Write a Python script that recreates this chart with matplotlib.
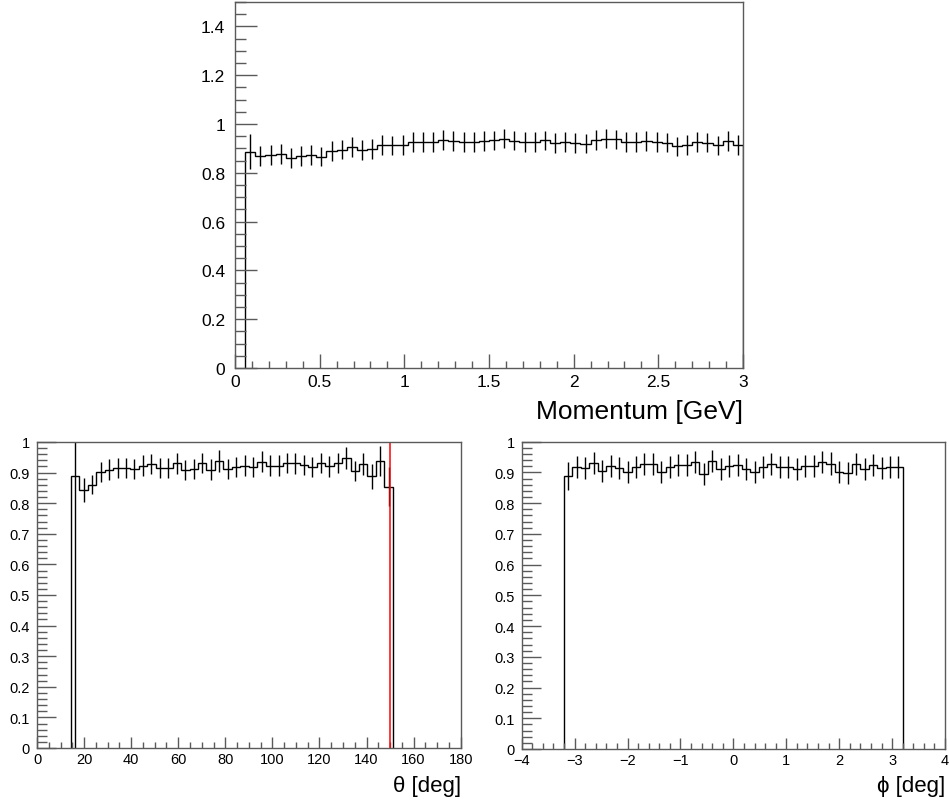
import numpy as np
import matplotlib
matplotlib.use("Agg")
import matplotlib.pyplot as plt
from matplotlib.ticker import MultipleLocator, FuncFormatter

plt.rcParams['font.family'] = ['Liberation Sans', 'DejaVu Sans']

# ---------------- data ----------------
# Momentum: 50 bins on [0, 3]; bins 1..49 filled
mom_nbins = 50
mom_range = (0.0, 3.0)
mom_first_bin = 1
mom_vals = [0.887, 0.868, 0.872, 0.876, 0.860, 0.868, 0.872, 0.866, 0.889, 0.895,
            0.905, 0.894, 0.897, 0.915, 0.912, 0.915, 0.926, 0.926, 0.927, 0.934,
            0.930, 0.927, 0.927, 0.930, 0.933, 0.940, 0.932, 0.926, 0.927, 0.933,
            0.923, 0.927, 0.922, 0.920, 0.934, 0.940, 0.937, 0.926, 0.926, 0.930,
            0.926, 0.924, 0.908, 0.915, 0.926, 0.924, 0.912, 0.930, 0.915]
mom_errs = [0.071] + [0.040] * 48

# Theta: 50 bins on [0, 180]; bins 4..41 filled
th_nbins = 50
th_range = (0.0, 180.0)
th_first_bin = 4
th_vals = [0.890, 0.843, 0.861, 0.901, 0.910, 0.914, 0.916, 0.912, 0.923, 0.929,
           0.914, 0.914, 0.930, 0.909, 0.912, 0.932, 0.910, 0.937, 0.912, 0.919,
           0.923, 0.919, 0.936, 0.923, 0.923, 0.931, 0.930, 0.925, 0.919, 0.931,
           0.920, 0.931, 0.948, 0.904, 0.928, 0.888, 0.938, 0.854]
th_errs = [0.900, 0.040, 0.030, 0.033, 0.033, 0.033, 0.033, 0.033, 0.033, 0.033,
           0.033, 0.033, 0.033, 0.033, 0.033, 0.033, 0.033, 0.036, 0.033, 0.033,
           0.033, 0.033, 0.033, 0.033, 0.033, 0.033, 0.033, 0.033, 0.033, 0.033,
           0.033, 0.033, 0.036, 0.033, 0.035, 0.040, 0.050, 0.064]
th_cut = 150.0

# Phi: 50 bins on [-4, 4]; bins 5..44 filled
ph_nbins = 50
ph_range = (-4.0, 4.0)
ph_first_bin = 5
ph_vals = [0.889, 0.917, 0.913, 0.931, 0.906, 0.922, 0.913, 0.900, 0.917, 0.927,
           0.927, 0.902, 0.917, 0.925, 0.924, 0.933, 0.895, 0.937, 0.910, 0.920,
           0.924, 0.910, 0.902, 0.917, 0.927, 0.918, 0.917, 0.911, 0.920, 0.920,
           0.933, 0.929, 0.902, 0.897, 0.927, 0.911, 0.924, 0.913, 0.917, 0.917]
ph_errs = [0.045] + [0.036] * 39

# ---------------- figure ----------------
W, H = 949, 804
fig = plt.figure(figsize=(W / 100, H / 100), dpi=100)

def px_axes(l, r, t, b):
    return fig.add_axes([l / W, (H - b) / H, (r - l) / W, (b - t) / H])

SPINE = '#5a5a5a'

def fmt(v, pos):
    s = '{:g}'.format(round(v, 6))
    return s.replace('-', '\u2212')

def style(ax, xmaj, xmin, ymaj, ymin, xlen, ylen, fs, ypad, xpad):
    for s in ax.spines.values():
        s.set_color(SPINE)
        s.set_linewidth(1.0)
    ax.xaxis.set_major_locator(MultipleLocator(xmaj))
    ax.xaxis.set_minor_locator(MultipleLocator(xmin))
    ax.yaxis.set_major_locator(MultipleLocator(ymaj))
    ax.yaxis.set_minor_locator(MultipleLocator(ymin))
    ax.xaxis.set_major_formatter(FuncFormatter(fmt))
    ax.yaxis.set_major_formatter(FuncFormatter(fmt))
    ax.tick_params(axis='x', which='major', direction='in', length=xlen, width=1.0,
                   color=SPINE, labelsize=fs, pad=xpad, top=False)
    ax.tick_params(axis='x', which='minor', direction='in', length=xlen / 2, width=1.0,
                   color=SPINE, top=False)
    ax.tick_params(axis='y', which='major', direction='in', length=ylen, width=1.0,
                   color=SPINE, labelsize=fs, pad=ypad, right=False)
    ax.tick_params(axis='y', which='minor', direction='in', length=ylen / 2, width=1.0,
                   color=SPINE, right=False)

def draw_hist(ax, nbins, rng, first, vals, errs, ymax):
    edges_all = np.linspace(rng[0], rng[1], nbins + 1)
    n = len(vals)
    edges = edges_all[first:first + n + 1]
    v = np.array(vals)
    e = np.array(errs)
    centers = 0.5 * (edges[:-1] + edges[1:])
    ax.stairs(v, edges, baseline=0, color='black', linewidth=1.0)
    lo = np.clip(v - e, 0, ymax)
    hi = np.clip(v + e, 0, ymax)
    ax.vlines(centers, lo, hi, color='black', linewidth=1.0)

# Top: momentum
ax1 = px_axes(235, 743, 3, 369)
draw_hist(ax1, mom_nbins, mom_range, mom_first_bin, mom_vals, mom_errs, 1.5)
ax1.set_xlim(*mom_range)
ax1.set_ylim(0, 1.5)
style(ax1, 0.5, 0.1, 0.2, 0.05, 10, 16, 12.5, 7, 4)
fig.text(743 / W, 1 - 412 / H, 'Momentum [GeV]', ha='right', va='center', fontsize=19)

# Bottom-left: theta
ax2 = px_axes(37, 460.7, 443, 749)
draw_hist(ax2, th_nbins, th_range, th_first_bin, th_vals, th_errs, 1.0)
ax2.axvline(th_cut, color='red', linewidth=1.1)
ax2.set_xlim(*th_range)
ax2.set_ylim(0, 1.0)
style(ax2, 20, 5, 0.1, 0.02, 8, 14, 10.5, 5, 3)
fig.text(460.7 / W, 1 - 787 / H, '\u03b8 [deg]', ha='right', va='center', fontsize=16)

# Bottom-right: phi
ax3 = px_axes(521.7, 945, 442.7, 750)
draw_hist(ax3, ph_nbins, ph_range, ph_first_bin, ph_vals, ph_errs, 1.0)
ax3.set_xlim(*ph_range)
ax3.set_ylim(0, 1.0)
style(ax3, 1, 0.2, 0.1, 0.02, 8, 14, 10.5, 5, 3)
fig.text(945 / W, 1 - 787 / H, '\u03d5 [deg]', ha='right', va='center', fontsize=16)

fig.savefig('out.png', dpi=100)
